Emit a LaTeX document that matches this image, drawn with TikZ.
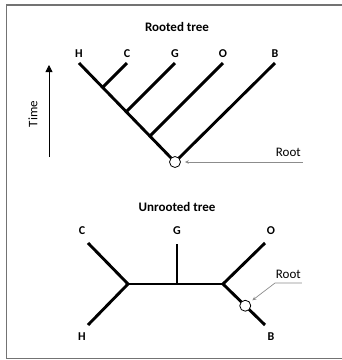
\documentclass[tikz,border=0pt]{standalone}
\usepackage{fontspec}
\setmainfont{Carlito}
\usetikzlibrary{positioning,arrows.meta,calc}
\tikzstyle{tree edge}=[line width=2.9pt]
\tikzstyle{root pointer}=[-{Stealth[length=4pt,width=3.5pt]},black!45,line width=0.7pt]
\tikzstyle{time arrow}=[-{Triangle[length=7pt,width=7pt]},line width=0.8pt]
\tikzstyle{leaf label}=[font=\bfseries\fontsize{12}{13}\selectfont,inner sep=1pt]
\tikzstyle{tree title}=[font=\bfseries\fontsize{13}{15}\selectfont]
\tikzstyle{plain label}=[font=\fontsize{13}{15}\selectfont,inner sep=1pt]
\tikzstyle{root mark}=[circle,draw,fill=white,minimum size=11pt,inner sep=0pt,line width=0.8pt]
\newcommand{\leafnode}[3][]{
  \node [leaf label, #1] (#2) {#3}
}
\begin{document}
\begin{tikzpicture}[x=1pt,y=-1pt]
        \useasboundingbox (0,0) rectangle (342,360);
        \draw[black!55,line width=1.6pt] (350,5) -- (6.5,5) -- (6.5,358.5) -- (350,358.5);

        % rooted tree
        \node[tree title] (rtitle) at (177,27) {Rooted tree};
        \coordinate (rt) at (175,162);
        \coordinate (tH) at (79,63);
        \coordinate (tC) at (127,63);
        \coordinate (tG) at (175,63);
        \coordinate (tO) at (223,63);
        \coordinate (tB) at (275,63);
        \coordinate (jC) at (102.6,87.4);
        \coordinate (jG) at (126.3,111.7);
        \coordinate (jO) at (149.9,136.1);
        \leafnode[above=4pt of tH]{lH}{H};
        \leafnode[above=4pt of tC]{lC}{C};
        \leafnode[above=4pt of tG]{lG}{G};
        \leafnode[above=4pt of tO]{lO}{O};
        \leafnode[above=4pt of tB]{lB}{B};

            \draw[tree edge] (rt) -- (tH);
            \draw[tree edge] (rt) -- (tB);
            \draw[tree edge] (jC) -- (tC);
            \draw[tree edge] (jG) -- (tG);
            \draw[tree edge] (jO) -- (tO);
        \node[root mark] (rroot) at (rt) {};

        \coordinate (rptr) at (303,162);
        \node[plain label,anchor=south east] (rlab) at (302,158) {Root};
            \draw[root pointer,shorten >=4pt] (rptr) -- (rroot);

        \coordinate (tbot) at (49,157);
        \coordinate (ttop) at (49,65);
            \draw[time arrow] (tbot) -- (ttop);
        \node[plain label,rotate=90] (time) at (33,114) {Time};

        % unrooted tree
        \node[tree title] (utitle) at (177,207) {Unrooted tree};
        \coordinate (uL) at (128,284);
        \coordinate (uM) at (177,284);
        \coordinate (uR) at (223,284);
        \coordinate (uC) at (88,243);
        \coordinate (uH) at (88,325);
        \coordinate (uG) at (177,244);
        \coordinate (uO) at (265,243);
        \coordinate (uB) at (265,325);
        \leafnode[at={(82,231)}]{ulC}{C};
        \leafnode[at={(177,231)}]{ulG}{G};
        \leafnode[at={(271,231)}]{ulO}{O};
        \leafnode[at={(82,337)}]{ulH}{H};
        \leafnode[at={(271,337)}]{ulB}{B};

            \draw[tree edge] (uL) -- (uR);
            \draw[tree edge] (uL) -- (uC);
            \draw[tree edge] (uL) -- (uH);
            \draw[tree edge] (uM) -- (uG);
            \draw[tree edge] (uR) -- (uO);
            \draw[tree edge] (uR) -- (uB);
        \node[root mark] (uroot) at ($(uR)!0.53!(uB)$) {};

        \coordinate (uptr) at (302,283);
        \coordinate (ubend) at (275,283);
        \node[plain label,anchor=south east] (ulab) at (302,280) {Root};
            \draw[root pointer,shorten >=3pt] (uptr) -- (ubend) -- (uroot);

\end{tikzpicture}
\end{document}
